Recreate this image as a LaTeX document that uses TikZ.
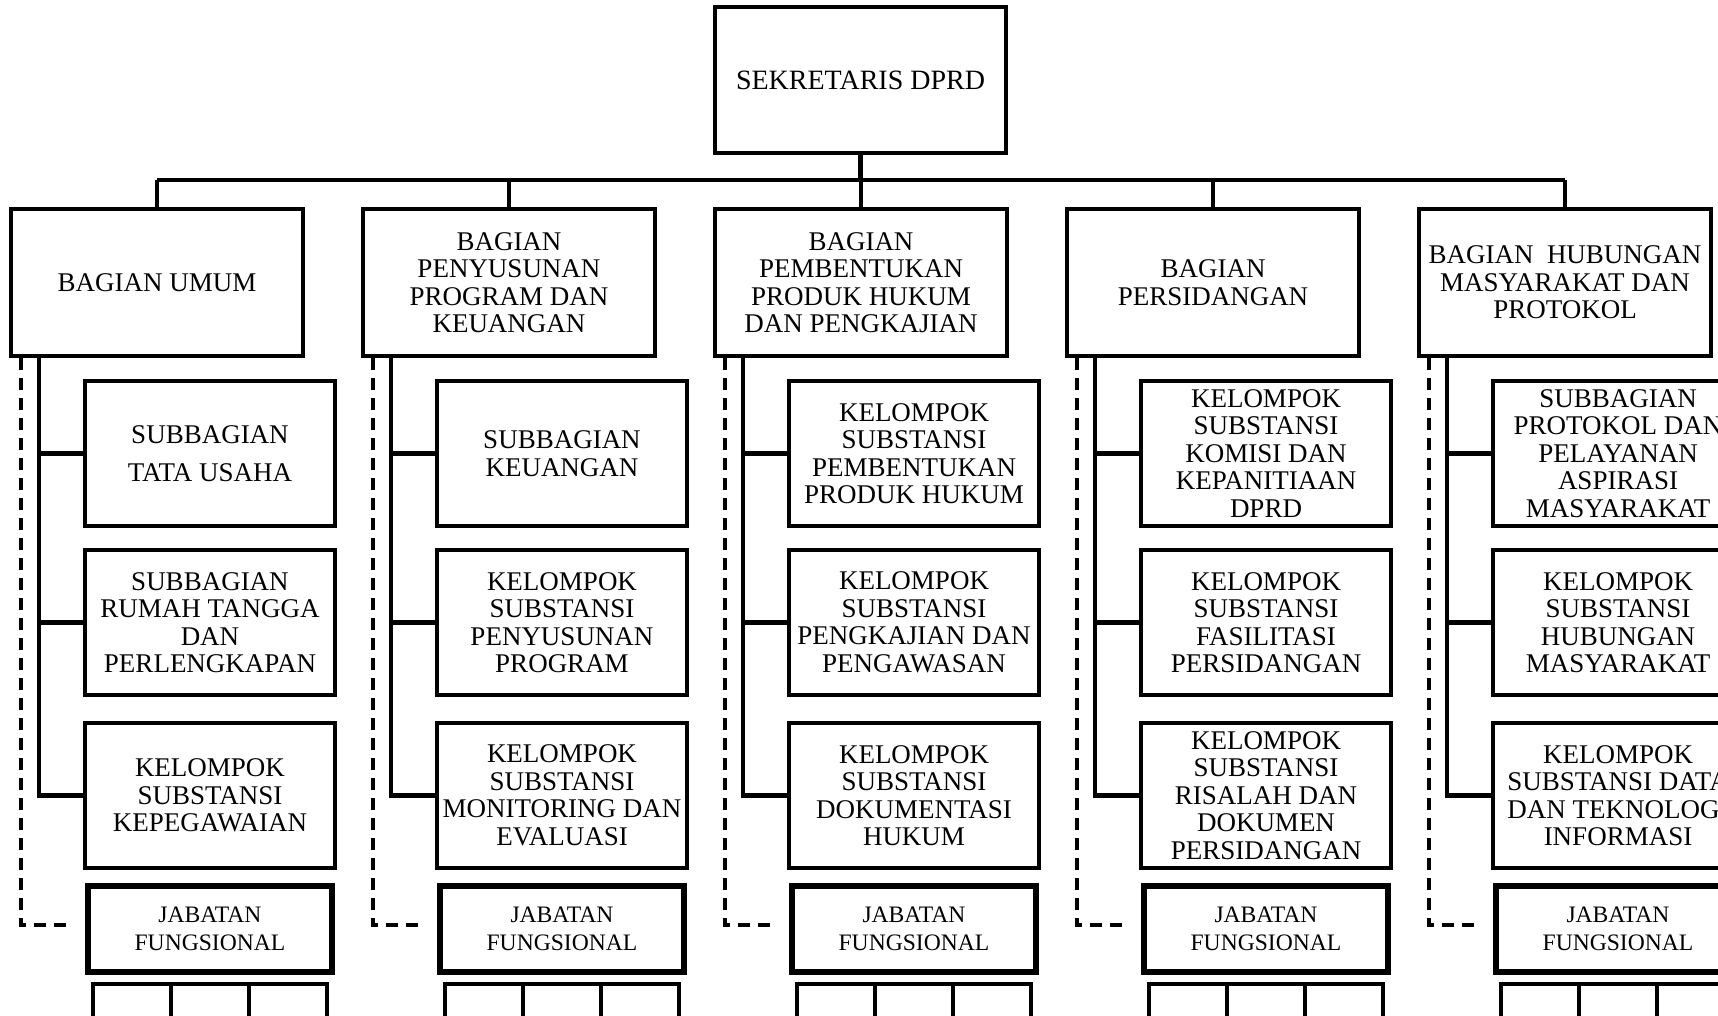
\documentclass[tikz,border=0pt]{standalone}
\usepackage{fontspec}
\setmainfont{Liberation Serif}
\begin{document}
\begin{tikzpicture}[x=0.5pt,y=-0.5pt,
  box/.style={draw, line width=2.2pt, inner sep=0pt, align=center, font=\fontsize{13.5}{13.75}\selectfont},
  topbox/.style={box, minimum width=145.5pt, minimum height=73pt, font=\fontsize{14}{16}\selectfont},
  bagbox/.style={box, minimum width=146pt, minimum height=73.5pt},
  subbox/.style={box, minimum width=125pt, minimum height=72.5pt},
  jabbox/.style={box, line width=2.6pt, minimum width=122pt, minimum height=43pt, font=\fontsize{11.8}{14}\selectfont},
  cell/.style={draw, line width=1.8pt, minimum width=39pt, minimum height=30pt, inner sep=0pt},
  conn/.style={line width=2.3pt},
  dconn/.style={line width=1.7pt, dash pattern=on 6pt off 4pt},
]
\useasboundingbox (0,0) rectangle (1718,1016);
\fill[white] (0,0) rectangle (1718,1016);
\clip (0,0) rectangle (1718,1016);

\node[topbox] (top) at (860.5,80) {SEKRETARIS DPRD};
\coordinate (bus) at (860.5,180);

\foreach \i/\bt/\sa/\sb/\sc in {
  1/{BAGIAN UMUM}/{SUBBAGIAN\\[5pt]TATA USAHA}/{SUBBAGIAN\\RUMAH TANGGA\\DAN\\PERLENGKAPAN}/{KELOMPOK\\SUBSTANSI\\KEPEGAWAIAN},
  2/{BAGIAN\\PENYUSUNAN\\PROGRAM DAN\\KEUANGAN}/{SUBBAGIAN\\KEUANGAN}/{KELOMPOK\\SUBSTANSI\\PENYUSUNAN\\PROGRAM}/{KELOMPOK\\SUBSTANSI\\MONITORING DAN\\EVALUASI},
  3/{BAGIAN\\PEMBENTUKAN\\PRODUK HUKUM\\DAN PENGKAJIAN}/{KELOMPOK\\SUBSTANSI\\PEMBENTUKAN\\PRODUK HUKUM}/{KELOMPOK\\SUBSTANSI\\PENGKAJIAN DAN\\PENGAWASAN}/{KELOMPOK\\SUBSTANSI\\DOKUMENTASI\\HUKUM},
  4/{BAGIAN\\PERSIDANGAN}/{KELOMPOK\\SUBSTANSI\\KOMISI DAN\\KEPANITIAAN\\DPRD}/{KELOMPOK\\SUBSTANSI\\FASILITASI\\PERSIDANGAN}/{KELOMPOK\\SUBSTANSI\\RISALAH DAN\\DOKUMEN\\PERSIDANGAN},
  5/{BAGIAN\ \ HUBUNGAN\\MASYARAKAT DAN\\PROTOKOL}/{SUBBAGIAN\\PROTOKOL DAN\\PELAYANAN\\ASPIRASI\\MASYARAKAT}/{KELOMPOK\\SUBSTANSI\\HUBUNGAN\\MASYARAKAT}/{KELOMPOK\\SUBSTANSI DATA\\DAN TEKNOLOGI\\INFORMASI}}
{
  \pgfmathsetmacro\L{11+352*(\i-1)}
  \node[bagbox] (b\i) at (\L+146,282.5) {\bt};
  \node[subbox] (s\i-1) at (\L+199,453.5) {\sa};
  \node[subbox] (s\i-2) at (\L+199,622.5) {\sb};
  \node[subbox] (s\i-3) at (\L+199,795.5) {\sc};
  \node[jabbox] (j\i) at (\L+199,929) {JABATAN\\FUNGSIONAL};
  \node[cell] (c\i-1) at (\L+121,1014) {};
  \node[cell] (c\i-2) at (\L+199,1014) {};
  \node[cell] (c\i-3) at (\L+277,1014) {};
  % bus drop
  \draw[conn] (b\i.north) -- (b\i.north |- bus);
  % solid branch
  \coordinate (t\i) at ([xshift=15pt]b\i.south west);
  \draw[conn] (t\i) |- (s\i-3.west);
  \draw[conn] (t\i |- s\i-1.west) -- (s\i-1.west);
  \draw[conn] (t\i |- s\i-2.west) -- (s\i-2.west);
  % dashed branch
  \coordinate (d\i) at ([xshift=6pt]b\i.south west);
  \coordinate (e\i) at (\L+60,925);
  \draw[dconn] (d\i) |- (e\i);
}
\draw[conn] (top.south) -- (bus);
\draw[conn] (b1.north |- bus) -- (b5.north |- bus);
\end{tikzpicture}
\end{document}
